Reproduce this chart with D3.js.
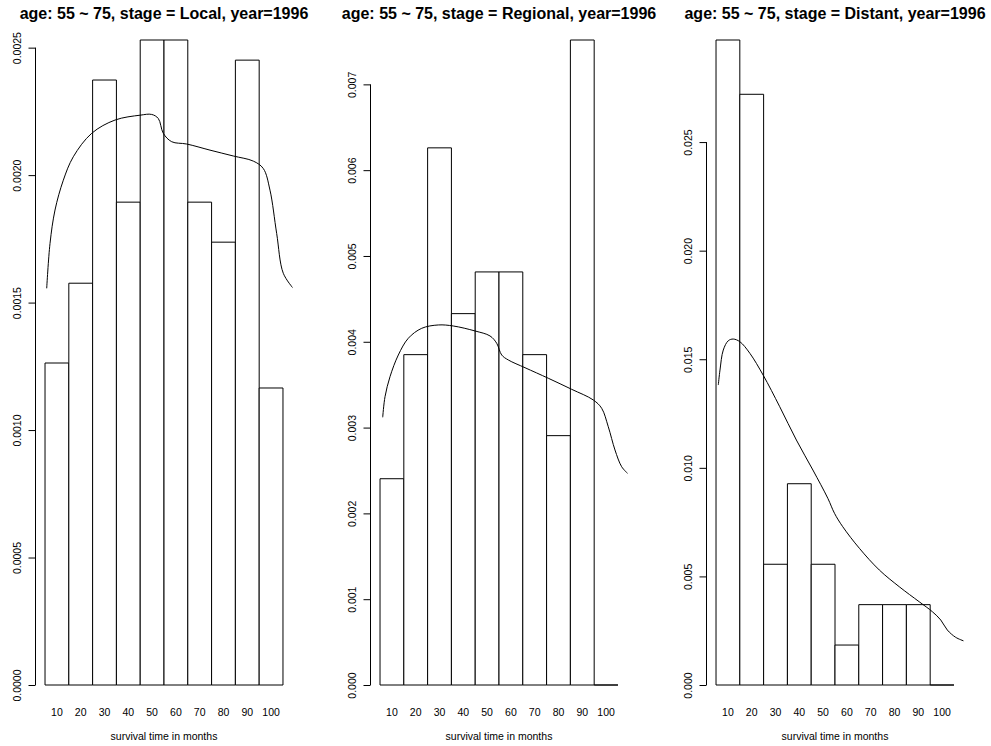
<!DOCTYPE html>
<html>
<head>
<meta charset="utf-8">
<script src="https://cdn.jsdelivr.net/npm/d3@7"></script>
<style>
  body { margin: 0; background: #fff; }
  svg { display: block; }
  text { font-family: "Liberation Sans", Arial, Helvetica, sans-serif; fill: #000; }
</style>
</head>
<body>
<svg id="chart" width="991" height="746"></svg>
<script>
// Histogram bin breaks (months) and the labelled bin centres
const breaks = [5, 15, 25, 35, 45, 55, 65, 75, 85, 95, 105];
const monthLabels = [10, 20, 30, 40, 50, 60, 70, 80, 90, 100];

// Histogram densities per bin, one array per stage
const localDensity    = [0.001263, 0.001576, 0.002373, 0.001894, 0.002530, 0.002530, 0.001894, 0.001737, 0.002451, 0.001165];
const regionalDensity = [0.002404, 0.003850, 0.006260, 0.004328, 0.004814, 0.004814, 0.003850, 0.002906, 0.007517, 0];
const distantDensity  = [0.029700, 0.027200, 0.005560, 0.009268, 0.005560, 0.001840, 0.003700, 0.003700, 0.003700, 0];

// Kernel density estimates (month, density)
const localCurveMonths   = [5.71, 7.10, 9.20, 12.69, 16.89, 24.62, 34.41, 44.92, 49.83, 52.61, 54.71, 58.24, 64.54, 74.33, 84.12, 92.52, 96.72, 99.54, 102.35, 105.13, 109.3];
const localCurveDensity  = [0.001556, 0.001732, 0.001863, 0.001980, 0.002072, 0.002164, 0.002216, 0.002235, 0.002238, 0.002222, 0.002164, 0.002131, 0.002122, 0.002098, 0.002075, 0.002055, 0.002026, 0.001941, 0.001771, 0.001615, 0.001556];

const regionalCurveMonths  = [6.13, 7.10, 9.20, 12.69, 16.89, 22.52, 29.50, 35.80, 44.92, 51.22, 54.03, 56.13, 58.91, 65.92, 75.71, 85.55, 94.62, 98.15, 100.92, 103.74, 106.55, 109.3];
const regionalCurveDensity = [0.003120, 0.003360, 0.003593, 0.003846, 0.004041, 0.004157, 0.004196, 0.004184, 0.004126, 0.004068, 0.003983, 0.003846, 0.003788, 0.003698, 0.003575, 0.003446, 0.003322, 0.003225, 0.003010, 0.002739, 0.002544, 0.002459];

const distantCurveMonths  = [5.96, 6.67, 8.05, 10.15, 12.24, 15.04, 19.23, 24.79, 31.78, 38.77, 45.71, 51.99, 54.79, 58.26, 65.25, 73.62, 81.99, 90.36, 95.92, 99.44, 102.20, 105.71, 109.18];
const distantCurveDensity = [0.013812, 0.014503, 0.015424, 0.015852, 0.015930, 0.015806, 0.015272, 0.014273, 0.012813, 0.011280, 0.009899, 0.008596, 0.007905, 0.007288, 0.006294, 0.005295, 0.004526, 0.003835, 0.003375, 0.002993, 0.002532, 0.002196, 0.002026];

// Y-axis tick values per panel
const localTicks    = [0, 0.0005, 0.0010, 0.0015, 0.0020, 0.0025];
const regionalTicks = [0, 0.001, 0.002, 0.003, 0.004, 0.005, 0.006, 0.007];
const distantTicks  = [0, 0.005, 0.010, 0.015, 0.020, 0.025];

const titles = [
  "age: 55 ~ 75, stage = Local, year=1996",
  "age: 55 ~ 75, stage = Regional, year=1996",
  "age: 55 ~ 75, stage = Distant, year=1996"
];
const xTitle = "survival time in months";

const svg = d3.select("#chart");

const panels = [
  { left: 35.5,  bars: localDensity,    cx: localCurveMonths,    cy: localCurveDensity,    ticks: localTicks,    fmt: d3.format(".4f"), title: titles[0] },
  { left: 370.5, bars: regionalDensity, cx: regionalCurveMonths, cy: regionalCurveDensity, ticks: regionalTicks, fmt: d3.format(".3f"), title: titles[1] },
  { left: 706.5, bars: distantDensity,  cx: distantCurveMonths,  cy: distantCurveDensity,  ticks: distantTicks,  fmt: d3.format(".3f"), title: titles[2] }
];

const plotWidth = 257, plotTop = 14, plotBottom = 711;

panels.forEach((p, i) => {
  const x = d3.scaleLinear().domain([1, 109]).range([p.left, p.left + plotWidth]);
  const y = d3.scaleLinear().domain([0, d3.max(p.bars)]).range([685, 40]);
  const g = svg.append("g");

  // Histogram bars (paths so that empty bins still show as a line on the baseline)
  g.selectAll("path.bar")
    .data(p.bars)
    .join("path")
    .attr("class", "bar")
    .attr("d", (d, j) => {
      const x0 = x(breaks[j]), x1 = x(breaks[j + 1]), y0 = y(0), y1 = y(d);
      return `M${x0},${y0}H${x1}V${y1}H${x0}Z`;
    })
    .attr("fill", "#fff")
    .attr("stroke", "#000")
    .attr("stroke-width", 1);

  // Density curve, clipped to the plotting region
  const clipId = "clip" + i;
  svg.append("clipPath").attr("id", clipId)
    .append("rect")
    .attr("x", p.left).attr("y", plotTop)
    .attr("width", plotWidth).attr("height", plotBottom - plotTop);

  const pts = p.cx.map((m, k) => [m, p.cy[k]]);
  g.append("path")
    .datum(pts)
    .attr("clip-path", `url(#${clipId})`)
    .attr("fill", "none")
    .attr("stroke", "#000")
    .attr("stroke-width", 1)
    .attr("d", d3.line().x(d => x(d[0])).y(d => y(d[1])).curve(d3.curveCatmullRom.alpha(0.5)));

  // Y axis
  const ax = g.append("g")
    .attr("transform", `translate(${p.left},0)`)
    .call(d3.axisLeft(y).tickValues(p.ticks).tickFormat(p.fmt).tickSize(7).tickSizeOuter(0));
  ax.select(".domain").remove();
  ax.append("line")
    .attr("x1", 0).attr("x2", 0)
    .attr("y1", y(p.ticks[0])).attr("y2", y(p.ticks[p.ticks.length - 1]))
    .attr("stroke", "#000");
  ax.selectAll(".tick line").attr("stroke", "#000");
  ax.selectAll(".tick text")
    .attr("x", null).attr("dy", null)
    .attr("transform", "translate(-14.8,0) rotate(-90)")
    .attr("text-anchor", "middle")
    .style("font-size", "10.5px")
    .style("font-family", "'Liberation Sans', Arial, Helvetica, sans-serif")
    .attr("fill", "#000");

  // Bin labels under the bars
  g.selectAll("text.mlab")
    .data(monthLabels)
    .join("text")
    .attr("class", "mlab")
    .attr("x", d => x(d))
    .attr("y", 715.5)
    .attr("text-anchor", "middle")
    .style("font-size", "10.5px")
    .text(d => d);

  // Axis title
  g.append("text")
    .attr("x", p.left + plotWidth / 2)
    .attr("y", 740)
    .attr("text-anchor", "middle")
    .style("font-size", "10.5px")
    .text(xTitle);

  // Panel title
  g.append("text")
    .attr("x", p.left + plotWidth / 2)
    .attr("y", 19)
    .attr("text-anchor", "middle")
    .style("font-size", "16px")
    .style("font-weight", "bold")
    .text(p.title);
});
</script>
</body>
</html>
